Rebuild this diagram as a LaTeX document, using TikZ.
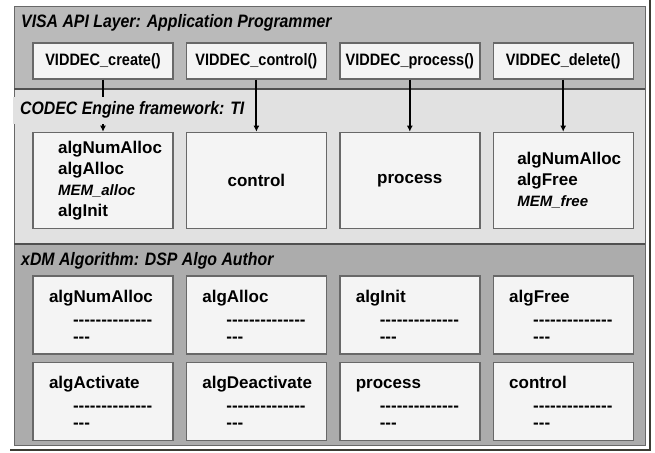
\documentclass[tikz,border=0pt]{standalone}
\usepackage{fontspec}
\setmainfont{Liberation Sans}
\newfontfamily\narrowsf[FakeStretch=0.88]{Liberation Sans}
\newfontfamily\boxsf[Ligatures=TeXOff]{Liberation Sans}
\usetikzlibrary{positioning,arrows.meta}

\definecolor{apigray}{HTML}{BABABA}
\definecolor{cegray}{HTML}{E1E1E1}
\definecolor{xdmgray}{HTML}{ACACAC}
\definecolor{boxfill}{HTML}{F4F4F4}
\definecolor{edgegray}{HTML}{686868}
\definecolor{sepgray}{HTML}{505050}
\definecolor{rimgray}{HTML}{3C3C34}

% function name with its filler lines (xDM boxes)
\newcommand{\algentry}[1]{\strut#1\\[2pt]\hspace*{24pt}--------------\\[-4pt]\hspace*{24pt}---}

\tikzset{
  layertitle/.style={anchor=west, inner sep=0pt, font=\narrowsf\fontsize{18}{20}\selectfont\bfseries\itshape},
  apibox/.style={draw=edgegray, fill=boxfill, line width=1.4pt, minimum width=140pt, minimum height=36pt, inner sep=0pt, font=\narrowsf\fontsize{16.5}{18}\selectfont\bfseries},
  cebox/.style={apibox, minimum height=96pt, font=\boxsf\fontsize{17}{21}\selectfont\bfseries},
  cetext/.style={inner sep=0pt, align=left, font=\boxsf\fontsize{17}{21}\selectfont\bfseries},
  algbox/.style={cebox, minimum height=78pt, align=left, text width=108pt, inner xsep=16pt},
  call/.style={line width=2pt, -{Latex[length=6pt,width=6pt]}},
}

\begin{document}
\begin{tikzpicture}[x=1pt, y=-1pt]
  \useasboundingbox (0,0) rectangle (655,452);

  % the three layers
  \fill[apigray] (14,7) rectangle (645,89);
  \fill[cegray] (14,89) rectangle (645,244);
  \fill[xdmgray] (14,244) rectangle (645,445);
  \draw[edgegray, line width=1pt] (14,7) rectangle (645,445);
  \draw[sepgray, line width=2pt] (14,89) -- (645,89);
  \draw[sepgray, line width=1.5pt] (14,244) -- (645,244);
  \draw[rimgray, line width=2pt] (10,450) -- (650,450) -- (650,0);

  \node[layertitle] (visatitle) at (21,23) {VISA API Layer: Application Programmer};

  % VISA calls
  \node[apibox] (create) at (103,61) {VIDDEC\_create()};
  \node[apibox, right=12pt of create] (control) {VIDDEC\_control()};
  \node[apibox, right=12pt of control] (process) {VIDDEC\_process()};
  \node[apibox, right=12pt of process] (delete) {VIDDEC\_delete()};

  % engine side
  \node[cebox, below=52pt of create] (cecreate) {};
  \node[cebox, below=52pt of control] (cecontrol) {control};
  \node[cebox, below=52pt of process] (ceprocess) {process};
  \node[cebox, below=52pt of delete] (cedelete) {};
  \node[cetext] (createtext) at ([xshift=7pt]cecreate.center)
    {algNumAlloc\\algAlloc\\{\fontsize{15}{21}\selectfont\itshape MEM\_alloc}\\algInit};
  \node[cetext] (deletetext) at ([xshift=6pt]cedelete.center)
    {algNumAlloc\\algFree\\{\fontsize{15}{21}\selectfont\itshape MEM\_free}};

  \draw[call] (create) -- (cecreate);
  \draw[call] (control) -- (cecontrol);
  \draw[call] (process) -- (ceprocess);
  \draw[call] (delete) -- (cedelete);

  \node[layertitle, fill=cegray, inner xsep=7pt, minimum height=27pt] (cetitle) at (13,110) {CODEC Engine framework: TI};
  \node[layertitle] (xdmtitle) at (21,261) {xDM Algorithm: DSP Algo Author};

  % xDM functions
  \node[algbox, below=46pt of cecreate] (numalloc) {\algentry{algNumAlloc}};
  \node[algbox, right=12pt of numalloc] (alloc) {\algentry{algAlloc}};
  \node[algbox, right=12pt of alloc] (init) {\algentry{algInit}};
  \node[algbox, right=12pt of init] (free) {\algentry{algFree}};
  \node[algbox, below=7pt of numalloc] (activate) {\algentry{algActivate}};
  \node[algbox, right=12pt of activate] (deactivate) {\algentry{algDeactivate}};
  \node[algbox, right=12pt of deactivate] (algprocess) {\algentry{process}};
  \node[algbox, right=12pt of algprocess] (algcontrol) {\algentry{control}};
\end{tikzpicture}
\end{document}
